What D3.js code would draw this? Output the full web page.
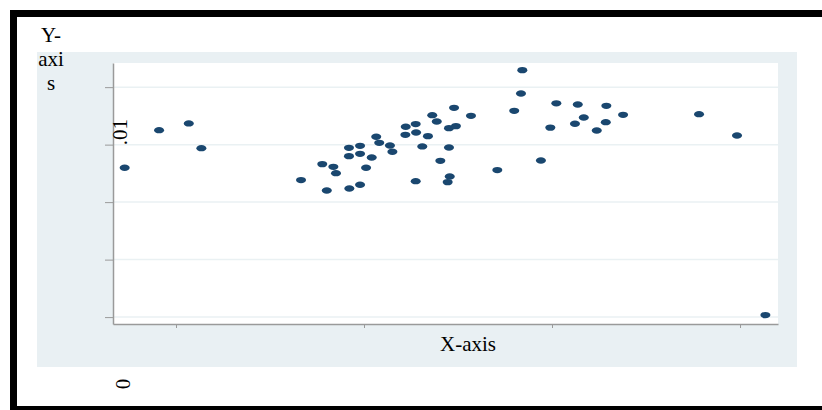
<!DOCTYPE html>
<html>
<head>
<meta charset="utf-8">
<script src="https://cdn.jsdelivr.net/npm/d3@7"></script>
<style>
    body { margin: 0; background: #fff; }
    svg  { display: block; }
    text { font-family: 'Liberation Serif', 'Times New Roman', serif; fill: #000; }
</style>
</head>
<body>
<div id="chart"></div>
<script>
'use strict';

// scatter values
const xValues = [ -2.73, -0.90, 0.68, 1.35,
    6.65, 7.78, 8.02, 8.37, 8.51, 9.20, 9.20, 9.22, 9.79, 9.79, 9.79,
    10.11, 10.41, 10.65, 10.81, 11.38, 11.51, 12.22, 12.20, 12.75, 12.77, 12.75,
    13.10, 13.40, 13.63, 13.87, 14.06, 14.52, 14.52, 14.56, 14.45, 14.79, 14.89,
    15.69, 17.09, 17.99, 18.35, 18.42, 19.41, 19.91, 20.23,
    21.22, 21.37, 21.69, 22.38, 22.86, 22.89, 23.78, 27.82, 29.84, 31.35 ];

const yValues = [ 0.00597, 0.01252, 0.01369, 0.00939,
    0.00383, 0.00661, 0.00203, 0.00614, 0.00504, 0.00944, 0.00800, 0.00238, 0.00979, 0.00840, 0.00301,
    0.00597, 0.00777, 0.01136, 0.01031, 0.00986, 0.00875, 0.01310, 0.01170, 0.01357, 0.01212, 0.00365,
    0.00969, 0.01148, 0.01513, 0.01403, 0.00718, 0.01287, 0.00951, 0.00447, 0.00348, 0.01640, 0.01322,
    0.01501, 0.00557, 0.01588, 0.01890, 0.02296, 0.00725, 0.01296, 0.01718,
    0.01362, 0.01699, 0.01473, 0.01247, 0.01391, 0.01675, 0.01518, 0.01530, 0.01160, -0.01965 ];

const xTicks = [0, 10, 20, 30];
const yTicks = [-0.02, -0.01, 0, 0.01, 0.02];

const yTitleLines = ['Y-', 'axi', 's'];
const xTitle = 'X-axis';
const yTickLabel = '.01';
const strayLabel = '0';

const W = 822, H = 410;
const plot = { left: 113, top: 63, right: 778, bottom: 324 };

let svg = d3.select('#chart')
            .append('svg')
            .attr('width', W)
            .attr('height', H);

// outer panel
svg.append('rect')
    .attr('x', 37).attr('y', 52)
    .attr('width', 760).attr('height', 315)
    .style('fill', '#e9f0f3');

svg.append('rect')
    .attr('x', plot.left).attr('y', plot.top)
    .attr('width', plot.right - plot.left).attr('height', plot.bottom - plot.top)
    .style('fill', '#fff');

let xScale = d3.scaleLinear().domain([-3.351, 32.02]).range([plot.left, plot.right]);
let yScale = d3.scaleLinear().domain([-0.0212, 0.0242]).range([plot.bottom, plot.top]);

// grid
svg.append('g')
    .selectAll('line')
    .data(yTicks)
    .enter()
    .append('line')
    .attr('x1', plot.left).attr('x2', plot.right)
    .attr('y1', d => yScale(d)).attr('y2', d => yScale(d))
    .style('stroke', '#eaf1f3')
    .style('stroke-width', 1.5);

// axes
let yAxis = svg.append('g')
    .attr('transform', `translate(${plot.left},0)`)
    .call(d3.axisLeft(yScale).tickValues(yTicks).tickSize(8).tickSizeOuter(0).tickFormat(''));

let xAxis = svg.append('g')
    .attr('transform', `translate(0,${plot.bottom})`)
    .call(d3.axisBottom(xScale).tickValues(xTicks).tickSize(4).tickSizeOuter(0).tickFormat(''));

[yAxis, xAxis].forEach(a =>
{
    a.select('.domain').style('stroke', '#9a9a9a').style('stroke-width', 1.5);
    a.selectAll('.tick line').style('stroke', '#9a9a9a').style('stroke-width', 1);
});

// points
svg.append('g')
    .selectAll('ellipse')
    .data(xValues.map((x, i) => ({ x: x, y: yValues[i] })))
    .enter()
    .append('ellipse')
    .attr('cx', d => xScale(d.x))
    .attr('cy', d => yScale(d.y))
    .attr('rx', 5)
    .attr('ry', 3.2)
    .style('fill', '#1a476f');

// texts
svg.append('text')
    .attr('transform', `translate(127,${yScale(0.01) + 0.5}) rotate(-90)`)
    .style('font-size', '21px')
    .text(yTickLabel);

svg.append('text')
    .attr('x', 468).attr('y', 351)
    .attr('text-anchor', 'middle')
    .style('font-size', '21px')
    .text(xTitle);

svg.append('g')
    .selectAll('text')
    .data(yTitleLines)
    .enter()
    .append('text')
    .attr('x', 51)
    .attr('y', (d, i) => 42 + i * 24)
    .attr('text-anchor', 'middle')
    .style('font-size', '21px')
    .text(d => d);

svg.append('text')
    .attr('transform', 'translate(130,384) rotate(-90)')
    .attr('text-anchor', 'middle')
    .style('font-size', '21px')
    .text(strayLabel);

// black frame, clipped on the right and bottom
svg.append('rect')
    .attr('x', 13.5).attr('y', 13.5)
    .attr('width', 900).attr('height', 396)
    .style('fill', 'none')
    .style('stroke', '#000')
    .style('stroke-width', 7);
</script>
</body>
</html>
